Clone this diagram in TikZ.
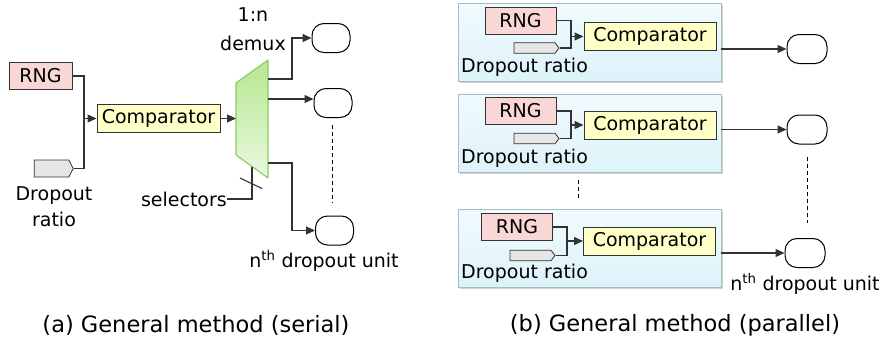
\documentclass[tikz,border=0pt]{standalone}
\usepackage{fontspec}
\setmainfont{DejaVu Sans}
\usetikzlibrary{arrows.meta,shapes.symbols,shadows}
\definecolor{rngfill}{HTML}{FAD7D7}
\definecolor{cmpfill}{HTML}{FFFFC8}
\definecolor{ratiofill}{HTML}{E6E6E6}
\definecolor{boxline}{HTML}{333333}
\definecolor{muxline}{HTML}{8CCB64}
\definecolor{muxtop}{HTML}{B4E890}
\definecolor{muxbot}{HTML}{EAF8E0}
\definecolor{panelline}{HTML}{A8BCC4}
\definecolor{paneltop}{HTML}{F0FBFE}
\definecolor{panelbot}{HTML}{DDF3FA}
\tikzset{
  lbl/.style={font=\fontsize{19}{21}\selectfont, inner sep=0pt},
  captxt/.style={font=\fontsize{22.5}{25}\selectfont, inner sep=0pt},
  rngbox/.style={draw=boxline, line width=1pt, fill=rngfill, minimum width=#1, minimum height=27pt, inner sep=0pt, font=\fontsize{19}{21}\selectfont},
  cmpbox/.style={draw=boxline, line width=1pt, fill=cmpfill, minimum width=#1, minimum height=28pt, inner sep=0pt, font=\fontsize{19}{21}\selectfont},
  unitbox/.style={draw=black, line width=1pt, rounded corners=12pt, minimum width=38pt, minimum height=29pt, inner sep=0pt},
  ratio/.style={draw=boxline, line width=0.8pt, fill=ratiofill, signal, signal to=east, inner sep=0pt},
  wire/.style={draw=boxline, line width=1.1pt},
  arr/.style={wire, -{Triangle[length=9pt,width=8pt]}},
  panel/.style={draw=panelline, line width=0.8pt, top color=paneltop, bottom color=panelbot, drop shadow={shadow xshift=1.5pt, shadow yshift=-1.5pt, opacity=0.35}},
  dots/.style={draw=black, line width=1pt, dash pattern=on 4pt off 3pt},
}
\begin{document}
\begin{tikzpicture}[x=1pt,y=-1pt]
\useasboundingbox (0,0) rectangle (889,351);
\fill[white] (0,0) rectangle (889,351);

% ---------- (a) serial ----------
\node[rngbox=63pt] (rngA) at (40.5,76) {RNG};
\node[cmpbox=123pt] (cmpA) at (158.5,118.5) {Comparator};
\node[ratio, minimum width=39pt, minimum height=17pt, signal pointer angle=125] (ratA) at (51.5,168.5) {};
\node[lbl, align=center] (ratAtxt) at (54,207) {Dropout\\[5pt]ratio};
\coordinate (joinA) at (84,118.5);
\draw[wire] (rngA.east) -| (joinA);
\draw[wire] (ratA.east) -| (joinA);
\draw[arr] (joinA) -- (cmpA.west);

% demultiplexer
\coordinate (mTL) at (236,83);
\coordinate (mTR) at (268,60);
\coordinate (mBR) at (268,178);
\coordinate (mBL) at (236,155);
\shade[top color=muxtop, bottom color=muxbot] (mTL) -- (mTR) -- (mBR) -- (mBL) -- cycle;
\draw[muxline, line width=1.1pt, line join=round] (mTL) -- (mTR) -- (mBR) -- (mBL) -- cycle;
\coordinate (muxIn) at (236,118.5);
\draw[arr] (cmpA.east) -- (muxIn);
\node[lbl] (muxlbl1) at (253,15) {1:n};
\node[lbl] (muxlbl2) at (253,43) {demux};

\node[unitbox] (u1A) at (331,38) {};
\node[unitbox] (u2A) at (333,103) {};
\node[unitbox] (unA) at (334.5,230.5) {};
\coordinate (o1A) at (268,79);
\coordinate (o2A) at (268,99);
\coordinate (onA) at (268,163);
\draw[arr] (o1A) -- (292,79) |- (u1A.west);
\draw[arr] (o2A) -- (u2A.west |- o2A);
\draw[arr] (onA) -- (292,163) |- (unA.west);
\draw[dots] (332,125) -- (332,203);
\node[lbl] (untxtA) at (324,261) {n\textsuperscript{th} dropout unit};

% selector bus
\node[lbl, anchor=east] (sel) at (227,199) {selectors};
\coordinate (selTop) at (252,166.5);
\draw[wire] (sel.east) -- (252,199) -- (selTop);
\draw[wire] (240,178) -- (262,188.5);

\node[captxt] (capA) at (196,325) {(a) General method (serial)};

% ---------- (b) parallel ----------
\foreach \i/\py/\rx/\ry/\cx/\cy/\dx/\dy/\jx/\ux/\uy in {
  1/3/520.5/20.5/650/36.5/534.5/48/571/807/49,
  2/94/520.5/111/650/125/534.5/138.5/571/807/129.5,
  3/209/517/227/649.5/241/530.5/255.5/567/805/253} {
  \node[panel, minimum width=263pt, minimum height=78pt, inner sep=0pt] (pan\i) at (589.5,\py+39) {};
  \node[rngbox=71pt] (rng\i) at (\rx,\ry) {RNG};
  \node[cmpbox=132pt] (cmp\i) at (\cx,\cy) {Comparator};
  \node[ratio, minimum width=45pt, minimum height=10.5pt, signal pointer angle=105] (rat\i) at (\dx,\dy) {};
  \node[lbl, anchor=west] (rattxt\i) at (461,\py+64) {Dropout ratio};
  \coordinate (join\i) at (\jx,\cy);
  \draw[wire] (rng\i.east) -| (join\i);
  \draw[wire] (rat\i.east) -| (join\i);
  \draw[arr] (join\i) -- (cmp\i.west);
  \node[unitbox, minimum width=40pt] (ub\i) at (\ux,\uy) {};
  \coordinate (src\i) at (pan\i.east |- ub\i.west);
  \draw[arr] (src\i) -- (ub\i.west);
}
\draw[dots] (578,180) -- (578,200);
\draw[dots] (807,157) -- (807,223);
\node[lbl] (untxtB) at (805,284) {n\textsuperscript{th} dropout unit};

\node[captxt] (capB) at (675,325) {(b) General method (parallel)};
\end{tikzpicture}
\end{document}
